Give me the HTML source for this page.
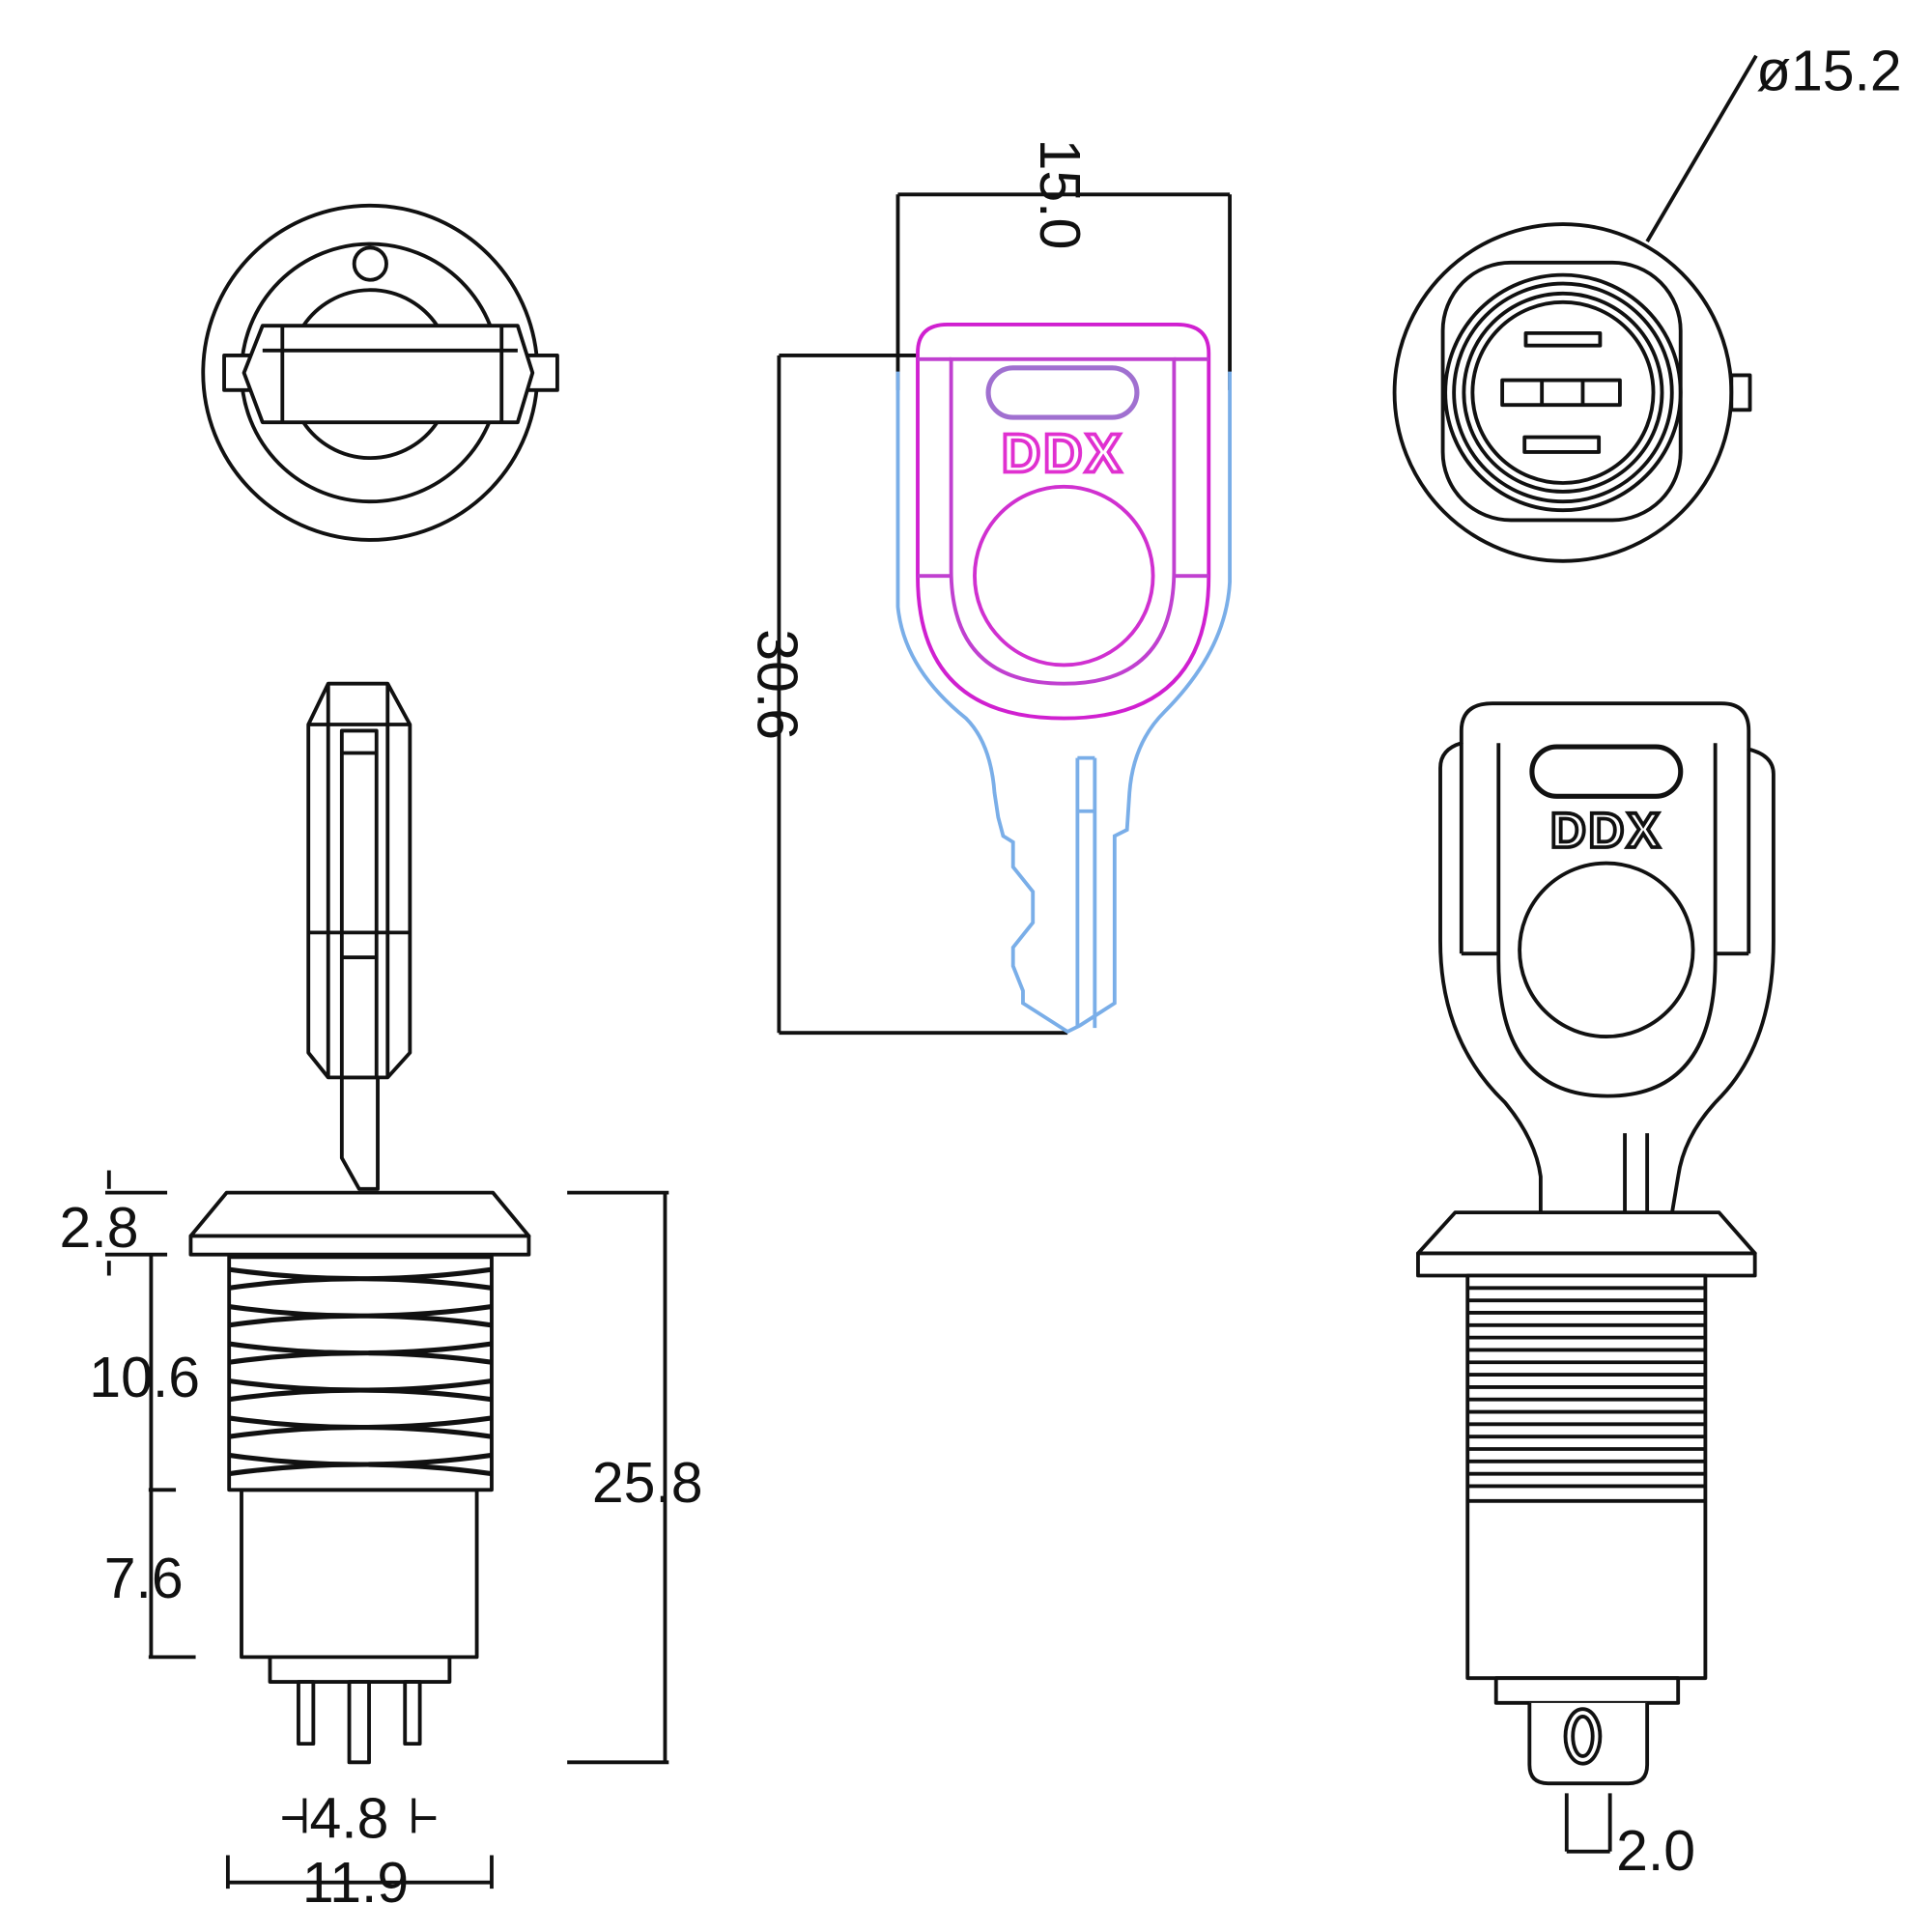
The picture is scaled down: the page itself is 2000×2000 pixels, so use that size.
<!DOCTYPE html>
<html><head><meta charset="utf-8"><style>html,body{margin:0;padding:0;background:#fff}svg{display:block}</style></head>
<body>
<svg width="2000" height="2000" viewBox="0 0 1560 1560" xmlns="http://www.w3.org/2000/svg" font-family="Liberation Sans, sans-serif">
<g fill="none" stroke="#111" stroke-width="3" stroke-linejoin="round">
<!-- top-left view -->
<circle cx="299" cy="301" r="135"/>
<circle cx="299" cy="301" r="104"/>
<circle cx="299" cy="213" r="13"/>
<path d="M245 263 A65 65 0 0 1 353 263"/>
<path d="M245 341 A65 65 0 0 0 353 341"/>
<rect x="181" y="287" width="269" height="28" fill="#fff"/>
<path d="M197 301 L212 263 L418 263 L430 301 L418 341 L212 341 Z" fill="#fff"/>
<line x1="228" y1="263" x2="228" y2="341"/><line x1="405" y1="263" x2="405" y2="341"/>
<line x1="212" y1="283" x2="418" y2="283"/>

<!-- top-right view -->
<circle cx="1262" cy="317" r="136"/>
<rect x="1398" y="303" width="15" height="28"/>
<rect x="1165" y="212" width="192" height="208" rx="55"/>
<circle cx="1262" cy="317" r="95"/>
<circle cx="1262" cy="317" r="88"/>
<circle cx="1262" cy="317" r="80"/>
<circle cx="1262" cy="317" r="73"/>
<rect x="1232" y="269" width="60" height="10"/>
<rect x="1213" y="307" width="95" height="20"/>
<line x1="1245" y1="307" x2="1245" y2="327"/><line x1="1278" y1="307" x2="1278" y2="327"/>
<rect x="1231" y="353" width="60" height="12"/>
<line x1="1330" y1="195" x2="1418" y2="45"/>

<!-- key dimensions -->
<line x1="725" y1="157" x2="993" y2="157"/>
<line x1="725" y1="157" x2="725" y2="315"/>
<line x1="993" y1="157" x2="993" y2="315"/>
<line x1="629" y1="287" x2="629" y2="834"/>
<line x1="629" y1="287" x2="740" y2="287"/>
<line x1="629" y1="834" x2="862" y2="834"/>
</g>

<!-- key (colored) -->
<g fill="none" stroke-width="3">
<path d="M725 300 L725 490 Q730 540 780 580 Q800 600 803 640 L806 660 L810 675 L818 680 L818 700 L834 720 L834 745 L818 765 L818 780 L826 800 L826 810 L862 833 L872 828 L900 810 L900 675 L910 670 L912 640 Q915 600 940 575 Q990 525 993 470 L993 300" stroke="#7aaee8"/>
<line x1="870" y1="612" x2="870" y2="830" stroke="#7aaee8"/>
<line x1="884" y1="612" x2="884" y2="830" stroke="#7aaee8"/>
<line x1="870" y1="612" x2="884" y2="612" stroke="#7aaee8"/>
<line x1="870" y1="655" x2="884" y2="655" stroke="#7aaee8"/>
<path d="M741 285 Q741 262 765 262 L950 262 Q976 262 976 285 L976 465 Q976 580 859 580 Q741 580 741 465 Z" stroke="#d020d0"/>
<path d="M768 290 L948 290 L948 460 Q948 552 859 552 Q768 552 768 460 Z" stroke="#c040d0"/>
<line x1="741" y1="290" x2="768" y2="290" stroke="#c040d0"/>
<line x1="948" y1="290" x2="976" y2="290" stroke="#c040d0"/>
<line x1="741" y1="465" x2="768" y2="465" stroke="#c040d0"/>
<line x1="948" y1="465" x2="976" y2="465" stroke="#c040d0"/>
<circle cx="859" cy="465" r="72" stroke="#d030d0"/>
<rect x="798" y="297" width="120" height="40" rx="20" stroke="#a070d0" stroke-width="4"/>
</g>
<text x="858" y="381" font-size="44" font-weight="bold" fill="none" stroke="#e030d0" stroke-width="3" text-anchor="middle" letter-spacing="2">DDX</text>

<!-- bottom-left side view -->
<g fill="#fff" stroke="#111" stroke-width="3" stroke-linejoin="round">
<path d="M276 868 L276 935 L290 960 L305 960 L305 868"/>
<path d="M265 552 L313 552 L331 585 L331 850 L313 870 L265 870 L249 850 L249 585 Z"/>
<line x1="265" y1="552" x2="265" y2="870"/><line x1="313" y1="552" x2="313" y2="870"/>
<rect x="276" y="590" width="28" height="280"/>
<line x1="276" y1="608" x2="304" y2="608"/>
<line x1="249" y1="753" x2="331" y2="753"/><line x1="276" y1="773" x2="304" y2="773"/>
<line x1="249" y1="585" x2="331" y2="585"/>
<path d="M183 963 L398 963 L427 998 L154 998 Z"/>
<rect x="154" y="998" width="273" height="15"/>
<rect x="195" y="1203" width="190" height="135"/>
<rect x="218" y="1338" width="145" height="20"/>
<rect x="241" y="1358" width="12" height="50"/>
<rect x="282" y="1358" width="16" height="65"/>
<rect x="327" y="1358" width="12" height="50"/>
<rect x="185" y="1015" width="212" height="188"/>
</g>
<g fill="none" stroke="#111" stroke-width="4">
<path d="M185 1025 Q290 1040 397 1025 M185 1040 Q290 1025 397 1040 M185 1055 Q290 1070 397 1055 M185 1070 Q290 1055 397 1070 M185 1085 Q290 1100 397 1085 M185 1100 Q290 1085 397 1100 M185 1115 Q290 1130 397 1115 M185 1130 Q290 1115 397 1130 M185 1145 Q290 1160 397 1145 M185 1160 Q290 1145 397 1160 M185 1175 Q290 1190 397 1175 M185 1190 Q290 1175 397 1190"/>
</g>
<g fill="none" stroke="#111" stroke-width="3">
<line x1="537" y1="963" x2="537" y2="1423"/>
<line x1="458" y1="963" x2="540" y2="963"/><line x1="458" y1="1423" x2="540" y2="1423"/>
<line x1="122" y1="1013" x2="122" y2="1338"/>
<line x1="85" y1="963" x2="135" y2="963"/><line x1="85" y1="1013" x2="135" y2="1013"/>
<line x1="120" y1="1203" x2="142" y2="1203"/><line x1="120" y1="1338" x2="158" y2="1338"/>
<line x1="88" y1="945" x2="88" y2="960"/><line x1="88" y1="1018" x2="88" y2="1030"/>
<line x1="184" y1="1520" x2="397" y2="1520"/>
<line x1="184" y1="1498" x2="184" y2="1525"/><line x1="397" y1="1498" x2="397" y2="1525"/>
<line x1="228" y1="1468" x2="245" y2="1468"/><line x1="335" y1="1468" x2="352" y2="1468"/>
<line x1="246" y1="1452" x2="246" y2="1480"/><line x1="334" y1="1452" x2="334" y2="1480"/>
<line x1="1265" y1="1448" x2="1265" y2="1495"/><line x1="1300" y1="1448" x2="1300" y2="1495"/>
<line x1="1265" y1="1495" x2="1300" y2="1495"/>
</g>

<!-- bottom-right front view -->
<g fill="#fff" stroke="#111" stroke-width="3" stroke-linejoin="round">
<path d="M1244 980 L1244 950 Q1240 920 1215 890 Q1163 840 1163 760 L1163 620 Q1163 605 1180 600 L1180 590 Q1180 568 1205 568 L1390 568 Q1412 568 1412 590 L1412 605 Q1432 610 1432 625 L1432 760 Q1432 840 1390 885 Q1360 915 1355 950 L1350 980"/>
<path d="M1180 600 L1180 770 M1412 605 L1412 770 M1180 770 L1210 770 M1385 770 L1412 770"/>
<path d="M1210 600 L1210 775 Q1210 885 1298 885 Q1385 885 1385 775 L1385 600"/>
<path d="M1312 915 L1312 978 M1330 915 L1330 978"/>
<circle cx="1297" cy="767" r="70"/>
<rect x="1237" y="603" width="120" height="40" rx="20" stroke-width="4"/>
<path d="M1175 979 L1388 979 L1417 1012 L1145 1012 Z"/>
<rect x="1145" y="1012" width="272" height="18"/>
<rect x="1185" y="1030" width="192" height="325"/>
<rect x="1208" y="1355" width="147" height="20"/>
<path d="M1235 1375 L1235 1425 Q1235 1440 1250 1440 L1315 1440 Q1330 1440 1330 1425 L1330 1375"/>
<ellipse cx="1278" cy="1402" rx="14" ry="22"/>
<ellipse cx="1278" cy="1402" rx="8" ry="16"/>
</g>
<g stroke="#111" stroke-width="3">
<path d="M1185 1040 H1377 M1185 1050 H1377 M1185 1060 H1377 M1185 1070 H1377 M1185 1080 H1377 M1185 1090 H1377 M1185 1100 H1377 M1185 1110 H1377 M1185 1120 H1377 M1185 1130 H1377 M1185 1140 H1377 M1185 1150 H1377 M1185 1160 H1377 M1185 1170 H1377 M1185 1180 H1377 M1185 1190 H1377 M1185 1200 H1377 M1185 1212 H1377"/>
</g>
<text x="1297" y="684" font-size="40" font-weight="bold" fill="none" stroke="#111" stroke-width="3" text-anchor="middle" letter-spacing="2">DDX</text>

<!-- labels -->
<g fill="#111" font-size="46">
<text x="1418" y="73">ø15.2</text>
<text transform="translate(840,112) rotate(90)">15.0</text>
<text transform="translate(612,508) rotate(90)">30.6</text>
<text x="48" y="1007">2.8</text>
<text x="72" y="1128">10.6</text>
<text x="84" y="1290">7.6</text>
<text x="478" y="1213">25.8</text>
<text x="250" y="1484">4.8</text>
<text x="244" y="1536">11.9</text>
<text x="1305" y="1510">2.0</text>
</g>
</svg>
</body></html>
